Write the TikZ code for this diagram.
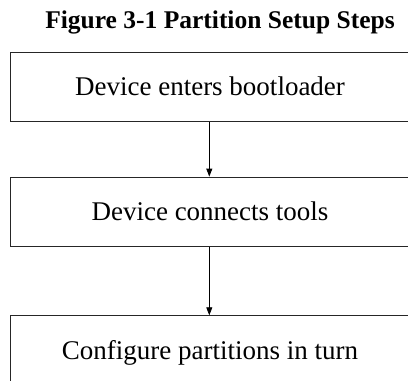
\documentclass[tikz,border=0pt]{standalone}
\usepackage{fontspec}
\setmainfont{Liberation Serif}
\usetikzlibrary{arrows.meta}
\begin{document}
\begin{tikzpicture}[x=1pt,y=-1pt,
  stepbox/.style={draw=black!85,line width=0.9pt,rectangle,minimum width=399.5pt,minimum height=69.5pt,
    inner sep=0pt,text height=17.5pt,text depth=0pt,font=\fontsize{27}{30}\selectfont},
  flow/.style={draw=black,line width=0.8pt,-{Triangle[length=8pt,width=6pt]}},
  titlestyle/.style={anchor=base,inner sep=0pt,font=\fontsize{25.5}{30}\selectfont\bfseries}]
\useasboundingbox (0,0) rectangle (408,381);
\node[titlestyle] (title) at (220,28.5) {Figure 3-1 Partition Setup Steps};
\node[stepbox] (b1) at (210,87) {Device enters bootloader};
\node[stepbox] (b2) at (210,211.8) {Device connects tools};
\node[stepbox] (b3) at (210,350.5) {Configure partitions in turn};
\draw[flow] ([xshift=-0.7pt]b1.south) -- ([xshift=-0.7pt]b2.north);
\draw[flow] ([xshift=-0.7pt]b2.south) -- ([xshift=-0.7pt]b3.north);
\end{tikzpicture}
\end{document}
